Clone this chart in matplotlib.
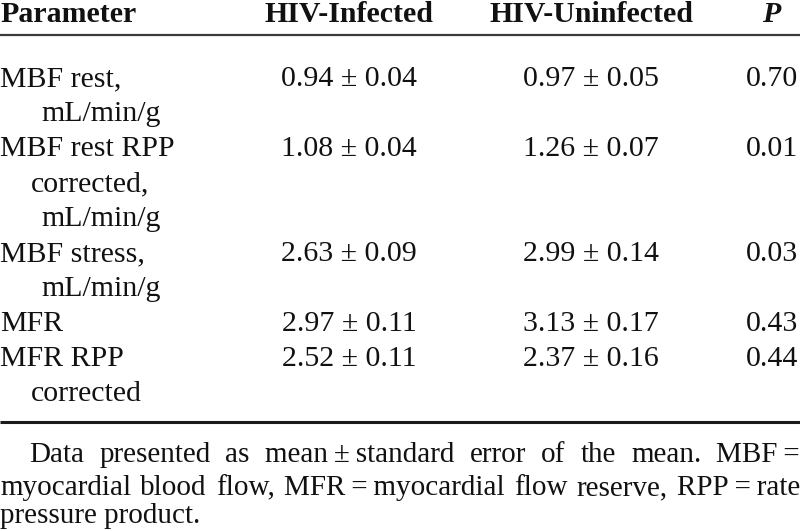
import matplotlib
matplotlib.use("Agg")
import matplotlib.pyplot as plt

# ---- data ----
headers = ["Parameter", "HIV-Infected", "HIV-Uninfected", "P"]
parameters = [
    ["MBF rest,", "mL/min/g"],
    ["MBF rest RPP", "corrected,", "mL/min/g"],
    ["MBF stress,", "mL/min/g"],
    ["MFR"],
    ["MFR RPP", "corrected"],
]
infected_mean = [0.94, 1.08, 2.63, 2.97, 2.52]
infected_sem = [0.04, 0.04, 0.09, 0.11, 0.11]
uninfected_mean = [0.97, 1.26, 2.99, 3.13, 2.37]
uninfected_sem = [0.05, 0.07, 0.14, 0.17, 0.16]
p_values = [0.70, 0.01, 0.03, 0.43, 0.44]
footnote_lines = [
    ["Data", "presented", "as", "mean\u2009\u00b1\u2009standard", "error", "of", "the", "mean.", "MBF\u2009="],
    ["myocardial", "blood", "flow,", "MFR\u2009=\u2009myocardial", "flow", "reserve,", "RPP\u2009=\u2009rate"],
    ["pressure product."],
]

# ---- layout ----
W, H = 800, 531
FS = 21.5
FS_FOOT = 21
FONT = ["Liberation Serif", "DejaVu Serif"]
TXT = "#111111"
fig = plt.figure(figsize=(W / 100, H / 100), dpi=100)
ax = fig.add_axes([0, 0, 1, 1])
ax.set_xlim(0, W)
ax.set_ylim(H, 0)
ax.axis("off")

col_inf = 349
col_un = 591
col_p_right = 798
col_p_head = 771

header_base = 22
kw = dict(fontsize=FS, family=FONT, color=TXT, va="baseline")
ax.text(0, header_base, headers[0], weight="bold", ha="left", **kw)
ax.text(col_inf, header_base, headers[1], weight="bold", ha="center", **kw)
ax.text(col_un, header_base, headers[2], weight="bold", ha="center", **kw)
ax.text(col_p_head, header_base, headers[3], weight="bold", style="italic", ha="center", **kw)

ax.plot([0, W], [35, 35], color="#3a3a3a", lw=1.6, solid_capstyle="butt")

first_base = 86.5
pitch = 34.9
line_idx = 0
indent_map = {"mL/min/g": 41, "corrected,": 31, "corrected": 31}
for i, lines in enumerate(parameters):
    y0 = round(first_base + line_idx * pitch)
    for j, t in enumerate(lines):
        x = 0 if j == 0 else indent_map.get(t, 31)
        ax.text(x, round(first_base + (line_idx + j) * pitch), t, ha="left", **kw)
    ax.text(col_inf, y0, f"{infected_mean[i]:.2f} \u00b1 {infected_sem[i]:.2f}", ha="center", **kw)
    ax.text(col_un, y0, f"{uninfected_mean[i]:.2f} \u00b1 {uninfected_sem[i]:.2f}", ha="center", **kw)
    ax.text(col_p_right, y0, f"{p_values[i]:.2f}", ha="right", **kw)
    line_idx += len(lines)

ax.plot([0, W], [422, 422], color="#1a1a1a", lw=2.2, solid_capstyle="butt")

# ---- justified footnote ----
fig.canvas.draw()
renderer = fig.canvas.get_renderer()
foot_base = [462, 495, 523]
foot_left = [29, 0, 0]
fkw = dict(fontsize=FS_FOOT, family=FONT, color=TXT, va="baseline", ha="left")
for k, words in enumerate(footnote_lines):
    texts = [ax.text(0, foot_base[k], w, **fkw) for w in words]
    widths = [t.get_window_extent(renderer).width for t in texts]
    if len(words) > 1:
        gap = (W - foot_left[k] - sum(widths)) / (len(words) - 1)
    else:
        gap = 0
    x = foot_left[k]
    for t, wdt in zip(texts, widths):
        t.set_x(x)
        x += wdt + gap

fig.savefig("out.png", dpi=100)
